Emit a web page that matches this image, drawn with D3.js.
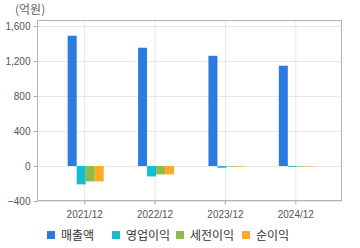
<!DOCTYPE html>
<meta charset="utf-8">
<style>
body { margin: 0; background: #fff; font-family: "Noto Sans CJK KR", "Noto Sans", sans-serif; }
.axis text { font-size: 10px; fill: #555; font-family: "Liberation Sans", "DejaVu Sans", sans-serif; }
.axis line, .axis path { stroke: #aaa; }
.grid line { stroke: #e8e8e8; }
.grid .domain { display: none; }
</style>
<body>
<svg width="360" height="248"></svg>
<script src="https://d3js.org/d3.v7.min.js"></script>
<script>

var years = ["2021/12", "2022/12", "2023/12", "2024/12"];
var keys = ["매출액", "영업이익", "세전이익", "순이익"];
var sales = [1489, 1352, 1260, 1146];
var opIncome = [-210, -119, -20, -10];
var pretax = [-176, -96, -8, -6];
var netIncome = [-176, -96, -8, -6];
var yTicks = [-400, 0, 400, 800, 1200, 1600];
var colors = ["#2b7be0", "#14bdd0", "#8cbc4c", "#fbab28"];

var data = years.map(function(y, i) {
  return {year: y, values: [sales[i], opIncome[i], pretax[i], netIncome[i]]};
});

var svg = d3.select("svg"),
    pLeft = 37, pRight = 342, pTop = 20, pBottom = 201;

var y = d3.scaleLinear().domain([-400, 1669]).range([pBottom, pTop]);
var x0 = d3.scaleBand().domain(years).range([49, 330.5]);
var x1 = d3.scaleBand().domain(keys).range([0, 36]);

function center(d) { return x0(d) + x0.bandwidth() / 2 + 0.5; }

// grid
svg.append("g")
    .attr("class", "grid")
    .attr("transform", "translate(" + pLeft + ",0)")
    .call(d3.axisLeft(y).tickValues(yTicks).tickSize(-(pRight - pLeft)).tickFormat(""));

svg.append("g")
    .attr("class", "grid")
    .attr("transform", "translate(0," + pBottom + ")")
    .call(d3.axisBottom(x0).tickSize(-(pBottom - pTop)).tickFormat("").offset(0))
  .selectAll(".tick")
    .attr("transform", function(d) { return "translate(" + center(d) + ",0)"; });

// bars
var g = svg.append("g").selectAll("g")
    .data(data)
  .enter().append("g")
    .attr("transform", function(d) { return "translate(" + (center(d.year) - 17) + ",0)"; });

g.selectAll("rect")
    .data(function(d) { return d.values.map(function(v, i) { return {key: keys[i], value: v, i: i}; }); })
  .enter().append("rect")
    .attr("x", function(d) { return x1(d.key); })
    .attr("width", x1.bandwidth())
    .attr("y", function(d) { return Math.min(y(d.value), y(0)); })
    .attr("height", function(d) { return Math.abs(y(d.value) - y(0)); })
    .attr("fill", function(d) { return colors[d.i]; });

// frame
svg.append("rect")
    .attr("x", pLeft + 0.5).attr("y", pTop + 0.5)
    .attr("width", pRight - pLeft - 1).attr("height", pBottom - pTop - 1)
    .attr("fill", "none").attr("stroke", "#b4b4b4");

// axes
var ya = svg.append("g")
    .attr("class", "axis")
    .attr("transform", "translate(" + (pLeft + 0.5) + ",0)")
    .call(d3.axisLeft(y).tickValues(yTicks).tickSize(4).tickPadding(3).tickFormat(d3.format(",")));
ya.select(".domain").remove();

var xa = svg.append("g")
    .attr("class", "axis")
    .attr("transform", "translate(0," + (pBottom - 0.5) + ")")
    .call(d3.axisBottom(x0).tickSize(4).tickPadding(6).offset(0));
xa.select(".domain").remove();
xa.selectAll(".tick").attr("transform", function(d) { return "translate(" + center(d) + ",0)"; });

// unit
svg.append("text")
    .attr("x", 15).attr("y", 14)
    .attr("font-size", 12).attr("fill", "#666")
    .text("(억원)");

// legend
var legX = [47, 112, 176, 242];
var leg = svg.append("g").selectAll("g")
    .data(keys)
  .enter().append("g")
    .attr("transform", function(d, i) { return "translate(" + legX[i] + ",230)"; });

leg.append("rect")
    .attr("width", 8).attr("height", 8).attr("y", 1)
    .attr("fill", function(d, i) { return colors[i]; });

leg.append("text")
    .attr("x", 14).attr("y", 9.5)
    .attr("font-size", 12).attr("fill", "#333")
    .text(function(d) { return d; });

</script>
</body>
